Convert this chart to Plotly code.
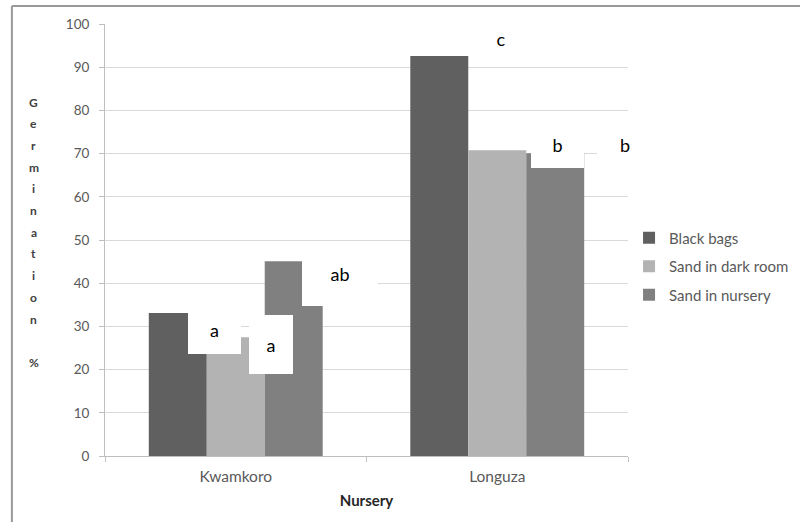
import plotly.graph_objects as go

nurseries = ["Kwamkoro", "Longuza"]
series_names = ["Black bags", "Sand in dark room", "Sand in nursery"]
black_bags = [33.1, 92.6]
sand_dark_room = [27.5, 70.8]
sand_nursery = [45.1, 70.1]
series_values = [black_bags, sand_dark_room, sand_nursery]
colors = ["#606060", "#b3b3b3", "#808080"]

y_ticks = [0, 10, 20, 30, 40, 50, 60, 70, 80, 90, 100]

# significance letters (with their white label boxes as in the original)
sig_letters = ["a", "a", "ab", "c", "b", "b"]
sig_x = [-0.082, 0.134, 0.398, 1.016, 1.229, 1.4895]
sig_y = [29.2, 25.8, 42.2, 96.5, 72.0, 72.0]
sig_w = [53, 44, 76, 64, 53, 56]
sig_h = [48, 59, 65, 50, 46, 46]

y_title = "Germination %"

fig = go.Figure()
for name, vals, col in zip(series_names, series_values, colors):
    fig.add_trace(go.Bar(
        x=nurseries, y=vals, name=name, legendgroup=name,
        marker=dict(color=col, line=dict(width=0)),
    ))

annotations = []
for t, x, y, w, h in zip(sig_letters, sig_x, sig_y, sig_w, sig_h):
    annotations.append(dict(
        text=t, x=x, y=y, xref="x", yref="y", showarrow=False,
        xanchor="center", yanchor="middle",
        bgcolor="white", width=w, height=h, borderpad=0, borderwidth=0,
        font=dict(family="Lato, Open Sans, sans-serif", size=18, color="#000000"),
    ))

for i, ch in enumerate(y_title):
    if ch == " ":
        continue
    ypix = 102 + i * 21.7
    annotations.append(dict(
        text="<b>" + ch + "</b>", x=-0.1358, y=(456 - ypix) / 432,
        xref="paper", yref="paper", showarrow=False,
        xanchor="center", yanchor="middle",
        font=dict(family="Lato, Open Sans, sans-serif", size=12, color="#404040"),
    ))

fig.update_layout(
    width=800, height=522,
    margin=dict(l=105, r=172, t=24, b=66, autoexpand=False),
    plot_bgcolor="white", paper_bgcolor="white",
    barmode="group", bargap=0.335, bargroupgap=0,
    font=dict(family="Lato, Open Sans, sans-serif", color="#595959", size=12),
    legend=dict(
        x=1.002, y=0.4386, xanchor="left", yanchor="middle",
        font=dict(size=15, color="#595959"), tracegroupgap=6,
        itemwidth=30, bgcolor="rgba(0,0,0,0)",
    ),
    annotations=annotations,
    shapes=[
        dict(type="line", xref="paper", yref="paper", x0=-0.178, x1=1.4,
             y0=1.0417, y1=1.0417, line=dict(color="#999999", width=2)),
        dict(type="line", xref="paper", yref="paper", x0=-0.178, x1=-0.178,
             y0=1.0417, y1=-0.2, line=dict(color="#999999", width=2)),
    ],
)

fig.update_yaxes(
    range=[0, 100], tickvals=y_ticks, showgrid=True, gridcolor="#d9d9d9",
    gridwidth=1, showline=True, linecolor="#bfbfbf", linewidth=1,
    ticks="outside", ticklen=5, tickcolor="#bfbfbf", ticklabelstandoff=7,
    tickfont=dict(size=13.5, color="#595959"), zeroline=False,
)
fig.update_xaxes(
    range=[-0.5, 1.5],
    showline=True, linecolor="#bfbfbf", linewidth=1,
    ticks="outside", ticklen=5, tickcolor="#bfbfbf", tickson="boundaries",
    ticklabelstandoff=6,
    tickfont=dict(size=15.5, color="#595959"),
    title=dict(text="<b>Nursery</b>", font=dict(size=15, color="#262626"), standoff=11),
)

fig.write_html("out.html", config={"displayModeBar": False},
               post_script="document.body.style.margin='0';")
